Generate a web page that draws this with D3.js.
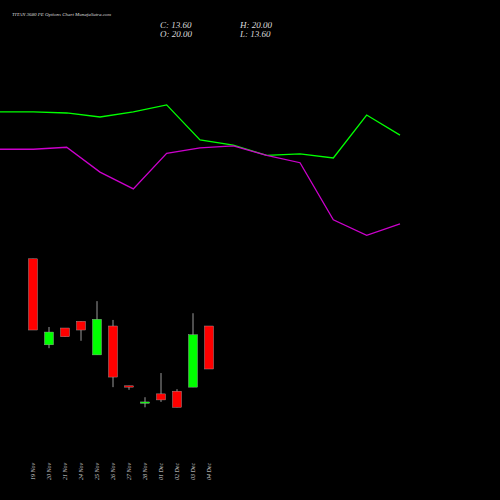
<!DOCTYPE html><html><head><script src="https://cdn.jsdelivr.net/npm/d3@7"></script>
<style>body{margin:0;background:#000}</style></head><body><svg width="500" height="500"></svg><script>
const dates=["19 Nov","20 Nov","21 Nov","24 Nov","25 Nov","26 Nov","27 Nov","28 Nov","01 Dec","02 Dec","03 Dec","04 Dec"];
const open=[30.0,17.2,19.7,20.7,15.7,20.0,11.1,8.5,9.9,10.3,10.9,20.0];
const high=[30.0,19.85,19.7,20.7,23.7,20.9,11.1,9.4,13.0,10.6,21.9,20.0];
const low=[19.4,16.7,18.4,17.8,15.7,10.9,10.5,7.9,8.7,7.9,10.9,13.6];
const close=[19.4,19.1,18.4,19.4,21.0,12.4,10.9,8.7,9.0,7.9,18.7,13.6];
const greenLine=[51.85,51.85,51.7,51.1,51.85,52.9,47.7,46.9,45.4,45.6,45.0,51.4,48.4];
const magentaLine=[46.3,46.3,46.6,42.9,40.4,45.7,46.5,46.8,45.4,44.3,35.8,33.5,35.2];
const svg=d3.select("svg");
svg.append("rect").attr("width",500).attr("height",500).attr("fill","#000");
const y=d3.scaleLinear().domain([0,60]).range([460.4,57.2]);
const x=d3.scaleBand().domain(dates).range([25,217]);
const xl=d3.scaleLinear().domain([0,12]).range([0,400]);
const line=d3.line().x((d,i)=>xl(i)).y(d=>y(d));
svg.append("path").attr("d",line(greenLine)).attr("fill","none").attr("stroke","#00ff00").attr("stroke-width",1.3);
svg.append("path").attr("d",line(magentaLine)).attr("fill","none").attr("stroke","#cc00cc").attr("stroke-width",1.3);
dates.forEach((d,i)=>{
 const cx=x(d)+x.bandwidth()/2, up=close[i]>=open[i], col=up?"#00ff00":"#ff0000";
 svg.append("line").attr("x1",cx).attr("x2",cx).attr("y1",y(high[i])).attr("y2",y(low[i])).attr("stroke","#999").attr("stroke-width",1);
 const t=y(Math.max(open[i],close[i])),b=y(Math.min(open[i],close[i]));
 svg.append("rect").attr("x",cx-4.5).attr("width",9).attr("y",t).attr("height",Math.max(1,b-t)).attr("fill",col).attr("stroke","#aaa").attr("stroke-width",0.4);
 svg.append("text").attr("transform",`translate(${cx+2},480) rotate(-90)`).attr("fill","#ccc").attr("font-family","Liberation Serif").attr("font-style","italic").attr("font-size",6).text(d);
});
const tf={"font-family":"Liberation Serif","font-style":"italic","fill":"#ddd"};
function T(x0,y0,s,fs){const t=svg.append("text").attr("x",x0).attr("y",y0).attr("font-size",fs).text(s);for(const k in tf)t.attr(k,tf[k]);}
T(12,16,"TITAN  3680  PE Options  Chart MunafaSutra.com",5);
T(160,28,"C: 13.60",9);T(240,28,"H: 20.00",9);
T(160,37,"O: 20.00",9);T(240,37,"L: 13.60",9);
</script></body></html>
